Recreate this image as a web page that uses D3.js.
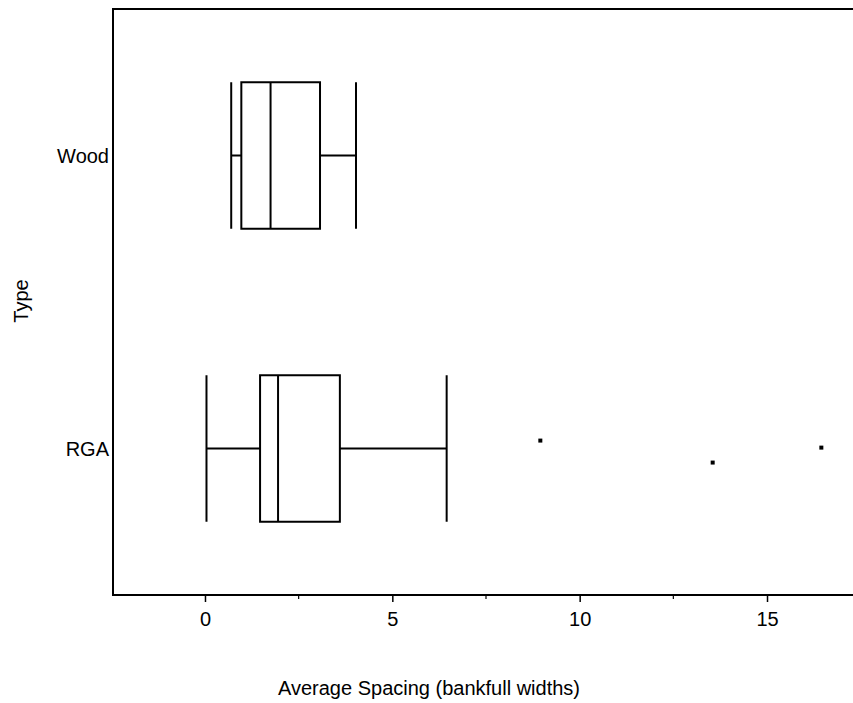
<!DOCTYPE html>
<html lang="en">
<head>
    <meta charset="UTF-8">
    <title>Average Spacing by Type</title>
    <script src="https://cdnjs.cloudflare.com/ajax/libs/d3/7.8.5/d3.min.js"></script>
</head>
<style>
    body { margin: 0; background: #fff; }
    text { font-family: "Liberation Sans", Arial, sans-serif; fill: #000; }
    .box line, .box rect { stroke: #000; stroke-width: 2; fill: none; }
</style>
<body>
    <svg id="chart" width="853" height="703"></svg>
</body>
<script>
    // box-plot summaries
    const types = ["Wood", "RGA"];
    const whiskerLow = [0.7, 0.04];
    const q1 = [0.97, 1.47];
    const median = [1.75, 1.95];
    const q3 = [3.07, 3.6];
    const whiskerHigh = [4.03, 6.45];

    // outliers (RGA only); jitter is vertical offset as a fraction of the band step
    const outlierType = ["RGA", "RGA", "RGA"];
    const outlierValue = [8.95, 13.55, 16.45];
    const outlierJitter = [-0.027, 0.048, -0.003];

    const xTicks = [0, 5, 10, 15];
    const xMinorTicks = [2.5, 7.5, 12.5, 17.5];

    const svg = d3.select("#chart");
    const plotLeft = 113, plotTop = 9, plotBottom = 595, plotRight = 853;

    const x = d3.scaleLinear().domain([-2.455, 17.295]).range([plotLeft, plotRight]);
    const y = d3.scalePoint().domain(types).range([plotTop, plotBottom]).padding(0.5);
    const boxH = y.step() * 0.5;

    // frame (right edge runs off the page)
    svg.append("path")
        .attr("d", `M${plotRight + 5},${plotTop}H${plotLeft}V${plotBottom}H${plotRight + 5}`)
        .attr("fill", "none")
        .attr("stroke", "#000")
        .attr("stroke-width", 2);

    // x axis
    const xAxis = svg.append("g")
        .attr("transform", `translate(0,${plotBottom})`)
        .call(d3.axisBottom(x).tickValues(xTicks).tickSize(7).tickPadding(10).tickFormat(d3.format("d")));
    xAxis.select(".domain").remove();
    xAxis.selectAll(".tick line").attr("stroke-width", 1.5);
    xAxis.selectAll(".tick text").style("font-size", "20px");

    svg.append("g")
        .attr("transform", `translate(0,${plotBottom})`)
        .selectAll("line")
        .data(xMinorTicks)
        .join("line")
        .attr("x1", d => x(d)).attr("x2", d => x(d))
        .attr("y1", 0).attr("y2", 4)
        .attr("stroke", "#000").attr("stroke-width", 1.2);

    // y axis labels
    svg.append("g")
        .selectAll("text")
        .data(types)
        .join("text")
        .attr("x", plotLeft - 4)
        .attr("y", d => y(d))
        .attr("dy", "0.35em")
        .attr("text-anchor", "end")
        .style("font-size", "20px")
        .text(d => d);

    // axis titles
    svg.append("text")
        .attr("x", 429)
        .attr("y", 695)
        .attr("text-anchor", "middle")
        .style("font-size", "20px")
        .text("Average Spacing (bankfull widths)");

    svg.append("text")
        .attr("transform", `translate(28,301) rotate(-90)`)
        .attr("text-anchor", "middle")
        .style("font-size", "20px")
        .text("Type");

    // boxes
    const stats = types.map((t, i) => ({
        type: t, lo: whiskerLow[i], q1: q1[i], med: median[i], q3: q3[i], hi: whiskerHigh[i]
    }));

    const box = svg.append("g").attr("class", "box")
        .selectAll("g")
        .data(stats)
        .join("g");

    box.append("line")
        .attr("x1", d => x(d.lo)).attr("x2", d => x(d.q1))
        .attr("y1", d => y(d.type)).attr("y2", d => y(d.type));
    box.append("line")
        .attr("x1", d => x(d.q3)).attr("x2", d => x(d.hi))
        .attr("y1", d => y(d.type)).attr("y2", d => y(d.type));
    box.append("line")
        .attr("x1", d => x(d.lo)).attr("x2", d => x(d.lo))
        .attr("y1", d => y(d.type) - boxH / 2).attr("y2", d => y(d.type) + boxH / 2);
    box.append("line")
        .attr("x1", d => x(d.hi)).attr("x2", d => x(d.hi))
        .attr("y1", d => y(d.type) - boxH / 2).attr("y2", d => y(d.type) + boxH / 2);
    box.append("rect")
        .attr("x", d => x(d.q1))
        .attr("y", d => y(d.type) - boxH / 2)
        .attr("width", d => x(d.q3) - x(d.q1))
        .attr("height", boxH);
    box.append("line")
        .attr("x1", d => x(d.med)).attr("x2", d => x(d.med))
        .attr("y1", d => y(d.type) - boxH / 2).attr("y2", d => y(d.type) + boxH / 2);

    // outliers
    svg.append("g")
        .selectAll("rect")
        .data(outlierValue.map((v, i) => ({ v, t: outlierType[i], j: outlierJitter[i] })))
        .join("rect")
        .attr("x", d => x(d.v) - 2)
        .attr("y", d => y(d.t) + d.j * y.step() - 2)
        .attr("width", 4)
        .attr("height", 4)
        .attr("fill", "#000");
</script>
</html>
